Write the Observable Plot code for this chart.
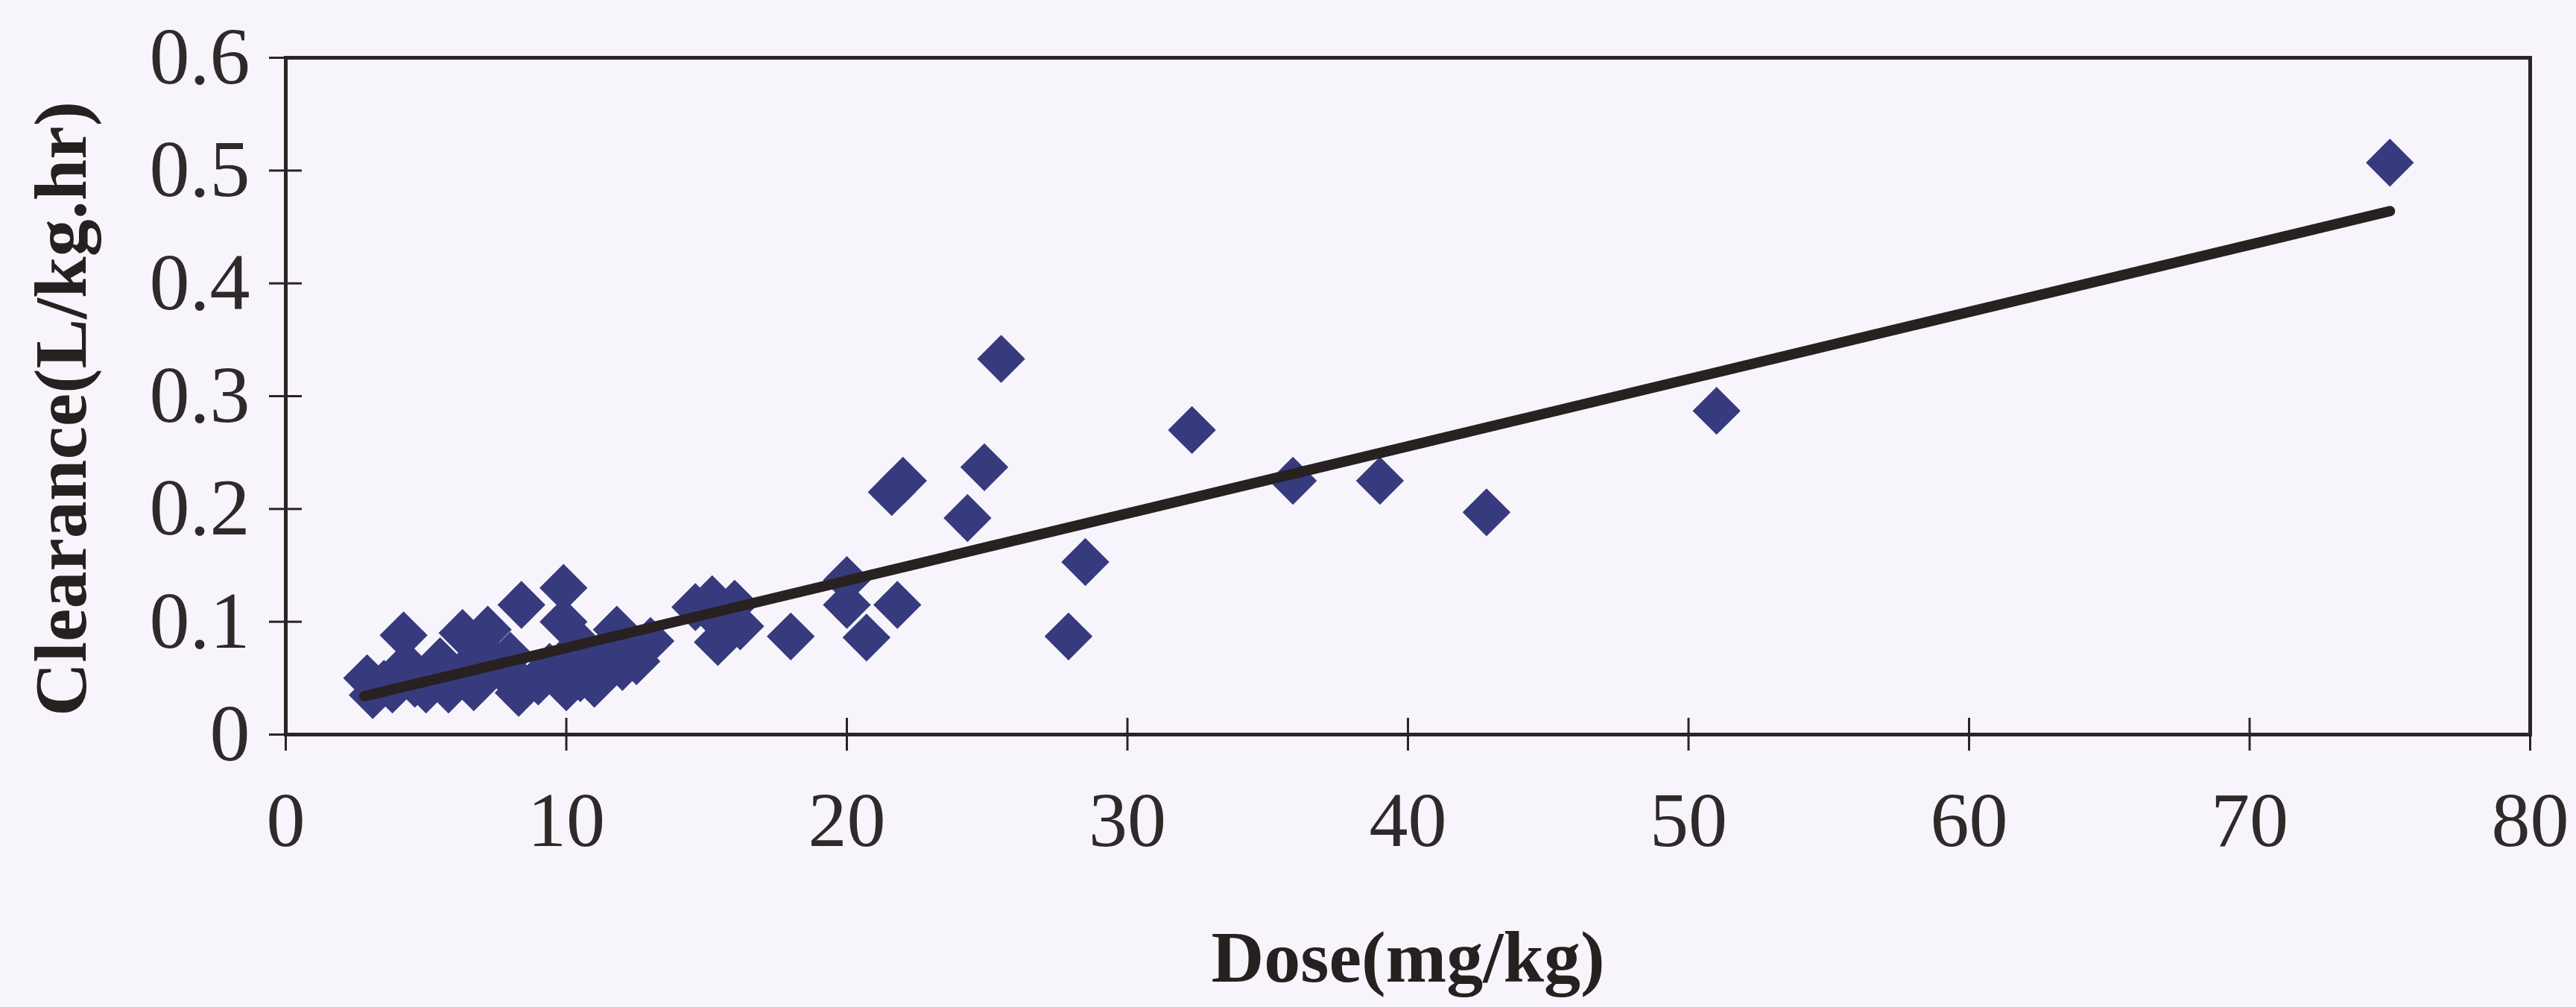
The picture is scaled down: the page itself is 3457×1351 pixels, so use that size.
<!DOCTYPE html>
<html>
<head>
<meta charset="utf-8">
<script src="https://cdn.jsdelivr.net/npm/d3@7"></script>
<script src="https://cdn.jsdelivr.net/npm/@observablehq/plot@0.6"></script>
<style>
  html, body { margin: 0; padding: 0; background: #f7f5fb; }
  #chart svg { display: block; }
</style>
</head>
<body>
<div id="chart"></div>
<script>
// ---- data ----
const dose = [2.9, 3.1, 3.5, 3.8, 4.2, 4.3, 4.6, 5.0, 5.2, 5.5, 5.8, 6.3, 6.5, 6.7, 7.2, 7.0, 7.6,
  8.0, 8.3, 8.4, 8.2, 9.0, 9.4, 9.9, 9.9, 10.0, 10.2, 10.5, 10.5, 10.9, 11.0, 11.3, 11.8, 12.0, 12.2, 12.5, 13.0,
  14.6, 15.2, 15.5, 15.4, 16.0, 16.2, 18.0, 20.0, 20.0, 20.7, 21.6, 22.0, 21.8,
  24.3, 24.9, 25.5, 27.9, 28.5, 32.3, 35.9, 39.0, 42.8, 51.0, 75.0];
const clearance = [0.050, 0.035, 0.045, 0.040, 0.088, 0.062, 0.045, 0.040, 0.055, 0.065, 0.040, 0.090, 0.060, 0.042, 0.093, 0.075, 0.060,
  0.070, 0.037, 0.115, 0.050, 0.047, 0.060, 0.130, 0.100, 0.042, 0.070, 0.050, 0.080, 0.056, 0.045, 0.072, 0.093, 0.060, 0.080, 0.065, 0.083,
  0.113, 0.120, 0.100, 0.082, 0.116, 0.096, 0.087, 0.137, 0.115, 0.086, 0.215, 0.225, 0.115,
  0.192, 0.237, 0.333, 0.087, 0.153, 0.270, 0.225, 0.225, 0.197, 0.287, 0.507];
// trendline end points (as drawn in the reference)
const trendDose = [2.8, 75.0];
const trendClearance = [0.034, 0.464];
// axes
const xTicks = [0, 10, 20, 30, 40, 50, 60, 70, 80];
const yTicks = [0, 0.1, 0.2, 0.3, 0.4, 0.5, 0.6];
const yTickLabels = ["0", "0.1", "0.2", "0.3", "0.4", "0.5", "0.6"];
const xTitle = "Dose(mg/kg)";
const yTitle = "Clearance(L/kg.hr)";

const points = dose.map((d, i) => ({dose: d, clearance: clearance[i]}));
const trend = trendDose.map((d, i) => ({dose: d, clearance: trendClearance[i]}));

const W = 3457, H = 1351;
const mL = 383, mR = 62, mT = 77, mB = 366;
const innerW = W - mL - mR, innerH = H - mT - mB;
const ink = "#2b2424";
const serif = "'Liberation Serif', 'Times New Roman', serif";

const chart = Plot.plot({
  width: W,
  height: H,
  marginLeft: mL,
  marginRight: mR,
  marginTop: mT,
  marginBottom: mB,
  style: {background: "#f7f5fb", fontFamily: serif, color: ink},
  x: {domain: [0, 80]},
  y: {domain: [0, 0.6]},
  marks: [
    Plot.dot(points, {x: "dose", y: "clearance", symbol: "diamond2", r: 29, fill: "#383a7e", stroke: "none"}),
    Plot.line(trend, {x: "dose", y: "clearance", stroke: "#272221", strokeWidth: 14, strokeLinecap: "round"}),
    Plot.frame({stroke: ink, strokeWidth: 5}),
    Plot.axisY(yTicks, {tickSize: 22, tickPadding: 26, fontSize: 108, stroke: ink, strokeWidth: 3, fill: "#2e2a2a",
      tickFormat: (d) => yTickLabels[yTicks.indexOf(d)], label: null}),
    Plot.axisX(xTicks, {tickSize: 22, tickPadding: 54, fontSize: 104, stroke: ink, strokeWidth: 3, fill: "#2e2a2a",
      tickFormat: (d) => String(d), label: null}),
    Plot.tickY(yTicks, {y: (d) => d, stroke: ink, strokeWidth: 3, insetRight: innerW - 22}),
    Plot.tickX(xTicks, {x: (d) => d, stroke: ink, strokeWidth: 3, insetTop: innerH - 22}),
    Plot.text([yTitle], {frameAnchor: "left", rotate: -90, dx: -301, dy: 17, fontSize: 100, fontWeight: "bold",
      fill: "#262020", textAnchor: "middle", lineAnchor: "middle"}),
    Plot.text([xTitle], {frameAnchor: "bottom", dy: 300, fontSize: 98, fontWeight: "bold",
      fill: "#262020", textAnchor: "middle", lineAnchor: "middle"})
  ]
});
document.getElementById("chart").appendChild(chart);
</script>
</body>
</html>
